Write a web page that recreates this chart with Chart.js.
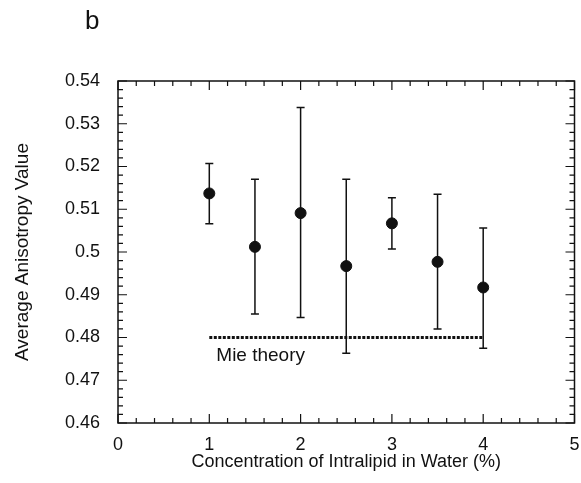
<!DOCTYPE html>
<html>
<head>
<meta charset="utf-8">
<script src="https://cdn.jsdelivr.net/npm/chart.js@4.4.1/dist/chart.umd.min.js"></script>
<style>
  html, body { margin: 0; padding: 0; background: #fff; overflow: hidden; }
  #wrap { width: 581px; height: 483px; position: relative; }
</style>
</head>
<body>
<div id="wrap"><canvas id="chart"></canvas></div>
<script>
// Concentration (%) and measured anisotropy with error bar ends
const concentrations = [1, 1.5, 2, 2.5, 3, 3.5, 4];
const anisotropy = [0.5137, 0.5012, 0.5091, 0.4967, 0.5067, 0.4977, 0.4917];
const errUpper = [0.5207, 0.5170, 0.5338, 0.5170, 0.5127, 0.5135, 0.5056];
const errLower = [0.5066, 0.4855, 0.4847, 0.4763, 0.5007, 0.4820, 0.4775];

// Mie theory prediction
const mieX = [1, 4];
const mieY = [0.48, 0.48];

const xTickLabels = ["0", "1", "2", "3", "4", "5"];
const yTickLabels = ["0.46", "0.47", "0.48", "0.49", "0.5", "0.51", "0.52", "0.53", "0.54"];

const ink = "#111";
const fontFam = "'Liberation Sans', Arial, Helvetica, sans-serif";

// error bars, drawn under the dots
const errorBars = {
    id: "errorBars",
    beforeDatasetsDraw(chart) {
        const ctx = chart.ctx;
        const xs = chart.scales.x, ys = chart.scales.y;
        ctx.save();
        ctx.strokeStyle = ink;
        ctx.lineWidth = 1.5;
        concentrations.forEach((c, i) => {
            const px = xs.getPixelForValue(c);
            const top = ys.getPixelForValue(errUpper[i]);
            const bot = ys.getPixelForValue(errLower[i]);
            ctx.beginPath();
            ctx.moveTo(px, top); ctx.lineTo(px, bot);
            ctx.moveTo(px - 4, top); ctx.lineTo(px + 4, top);
            ctx.moveTo(px - 4, bot); ctx.lineTo(px + 4, bot);
            ctx.stroke();
        });
        ctx.restore();
    }
};

// box around the plot with inward ticks on all sides, plus the text bits
const frame = {
    id: "frame",
    afterDraw(chart) {
        const ctx = chart.ctx;
        const a = chart.chartArea;
        const xs = chart.scales.x, ys = chart.scales.y;
        ctx.save();
        ctx.strokeStyle = ink;
        ctx.lineWidth = 1.5;
        ctx.strokeRect(a.left, a.top, a.right - a.left, a.bottom - a.top);

        ctx.lineWidth = 1.2;
        ctx.beginPath();
        for (let k = 0; k <= 25; k++) {
            const v = k * 0.2;
            const len = k % 5 === 0 ? 9 : 5;
            const px = xs.getPixelForValue(v);
            ctx.moveTo(px, a.bottom); ctx.lineTo(px, a.bottom - len);
            ctx.moveTo(px, a.top); ctx.lineTo(px, a.top + len);
        }
        for (let k = 0; k <= 40; k++) {
            const v = 0.46 + k * 0.002;
            const len = k % 5 === 0 ? 9 : 5;
            const py = ys.getPixelForValue(v);
            ctx.moveTo(a.left, py); ctx.lineTo(a.left + len, py);
            ctx.moveTo(a.right, py); ctx.lineTo(a.right - len, py);
        }
        ctx.stroke();

        ctx.fillStyle = ink;
        ctx.font = "19px " + fontFam;
        ctx.textBaseline = "middle";
        ctx.textAlign = "left";
        ctx.fillText("Mie theory", xs.getPixelForValue(1) + 7, ys.getPixelForValue(0.48) + 18);

        ctx.font = "26px " + fontFam;
        ctx.fillText("b", 85, 22);
        ctx.restore();
    }
};

new Chart(document.getElementById("chart"), {
    type: "scatter",
    data: {
        datasets: [
            {
                label: "Measured",
                data: concentrations.map((c, i) => ({ x: c, y: anisotropy[i] })),
                backgroundColor: ink,
                borderColor: ink,
                pointRadius: 5.5,
                pointHoverRadius: 5.5
            },
            {
                label: "Mie theory",
                type: "line",
                data: mieX.map((x, i) => ({ x: x, y: mieY[i] })),
                borderColor: ink,
                borderWidth: 3,
                borderDash: [3, 1.5],
                pointRadius: 0,
                fill: false
            }
        ]
    },
    options: {
        responsive: true,
        maintainAspectRatio: false,
        animation: false,
        layout: { padding: { left: 4, right: 5, top: 81, bottom: 0 } },
        plugins: {
            legend: { display: false },
            tooltip: { enabled: false }
        },
        scales: {
            x: {
                type: "linear",
                min: 0,
                max: 5,
                grid: { display: false, drawTicks: false },
                border: { display: false },
                ticks: {
                    stepSize: 1,
                    autoSkip: false,
                    maxRotation: 0,
                    padding: 11,
                    color: ink,
                    font: { family: fontFam, size: 18 },
                    callback: (v) => xTickLabels[Math.round(v)]
                },
                title: {
                    display: true,
                    text: "Concentration of Intralipid in Water (%)",
                    color: ink,
                    font: { family: fontFam, size: 18 },
                    padding: { top: 0, bottom: 10 }
                },
                afterFit: (s) => {
                    s.height = 60;
                    s.paddingLeft = 0;
                    s.paddingRight = 0;
                }
            },
            y: {
                min: 0.46,
                max: 0.54,
                grid: { display: false, drawTicks: false },
                border: { display: false },
                ticks: {
                    stepSize: 0.01,
                    autoSkip: false,
                    padding: 18,
                    color: ink,
                    font: { family: fontFam, size: 18 },
                    callback: (v) => yTickLabels[Math.round((v - 0.46) / 0.01)]
                },
                title: {
                    display: true,
                    text: "Average Anisotropy Value",
                    color: ink,
                    font: { family: fontFam, size: 19 },
                    padding: { top: 7, bottom: 0 }
                },
                afterFit: (s) => { s.width = 114; }
            }
        }
    },
    plugins: [errorBars, frame]
});
</script>
</body>
</html>
